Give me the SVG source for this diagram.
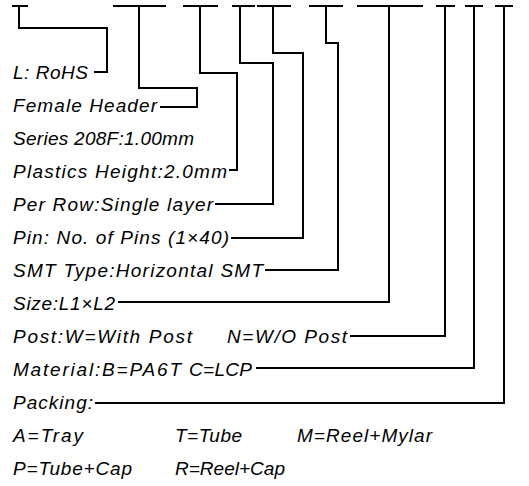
<svg xmlns="http://www.w3.org/2000/svg" width="529" height="486" viewBox="0 0 529 486">
<style>
text{font-family:"Liberation Sans",Arial,sans-serif;font-style:italic;font-size:19px;fill:#000}
.c{fill:none;stroke:#000;stroke-width:2;stroke-linejoin:miter;stroke-linecap:butt}
</style>
<rect width="529" height="486" fill="#fff"/>
<g id="connectors">
<path class="c" d="M12,6 H28 M19,6 V28 H107 V72 H94"/>
<path class="c" d="M113,6 H166 M139,6 V88 H197 V107 H160"/>
<path class="c" d="M183,6 H218 M200,6 V73 H237 V170 H229"/>
<path class="c" d="M232,6 H255 M240,6 V63 H273 V204 H215"/>
<path class="c" d="M257,6 H291 M273,6 V53 H303 V238 H231"/>
<path class="c" d="M309,6 H343 M326,6 V43 H338 V270 H265"/>
<path class="c" d="M357,6 H423 M389,6 V302 H118"/>
<path class="c" d="M436,6 H455 M445,6 V336 H350"/>
<path class="c" d="M465,6 H483 M474,6 V368 H256"/>
<path class="c" d="M495,6 H513 M504,6 V403 H95"/>
</g>
<g id="n-rohs"><text x="13" y="79" textLength="75" lengthAdjust="spacing">L: RoHS</text></g>
<g id="n-header"><text x="13" y="112" textLength="144" lengthAdjust="spacing">Female Header</text></g>
<g id="n-series"><text x="13" y="145" textLength="181" lengthAdjust="spacing">Series 208F:1.00mm</text></g>
<g id="n-height"><text x="13" y="178" textLength="214" lengthAdjust="spacing">Plastics Height:2.0mm</text></g>
<g id="n-row"><text x="13" y="211" textLength="200" lengthAdjust="spacing">Per Row:Single layer</text></g>
<g id="n-pin"><text x="13" y="244" textLength="216" lengthAdjust="spacing">Pin: No. of Pins (1×40)</text></g>
<g id="n-smt"><text x="13" y="277" textLength="250" lengthAdjust="spacing">SMT Type:Horizontal SMT</text></g>
<g id="n-size"><text x="13" y="310" textLength="102" lengthAdjust="spacing">Size:L1×L2</text></g>
<g id="n-post"><text x="13" y="343"><tspan textLength="179" lengthAdjust="spacing">Post:W=With Post</tspan><tspan x="227" textLength="120" lengthAdjust="spacing">N=W/O Post</tspan></text></g>
<g id="n-material"><text x="13" y="376"><tspan textLength="168" lengthAdjust="spacing">Material:B=PA6T</tspan><tspan x="189" textLength="63" lengthAdjust="spacing">C=LCP</tspan></text></g>
<g id="n-packing"><text x="13" y="409" textLength="80" lengthAdjust="spacing">Packing:</text></g>
<g id="n-pack1"><text x="13" y="442"><tspan textLength="70" lengthAdjust="spacing">A=Tray</tspan><tspan x="175" textLength="67" lengthAdjust="spacing">T=Tube</tspan><tspan x="297" textLength="135" lengthAdjust="spacing">M=Reel+Mylar</tspan></text></g>
<g id="n-pack2"><text x="13" y="475"><tspan textLength="119" lengthAdjust="spacing">P=Tube+Cap</tspan><tspan x="175" textLength="110" lengthAdjust="spacing">R=Reel+Cap</tspan></text></g>
</svg>
